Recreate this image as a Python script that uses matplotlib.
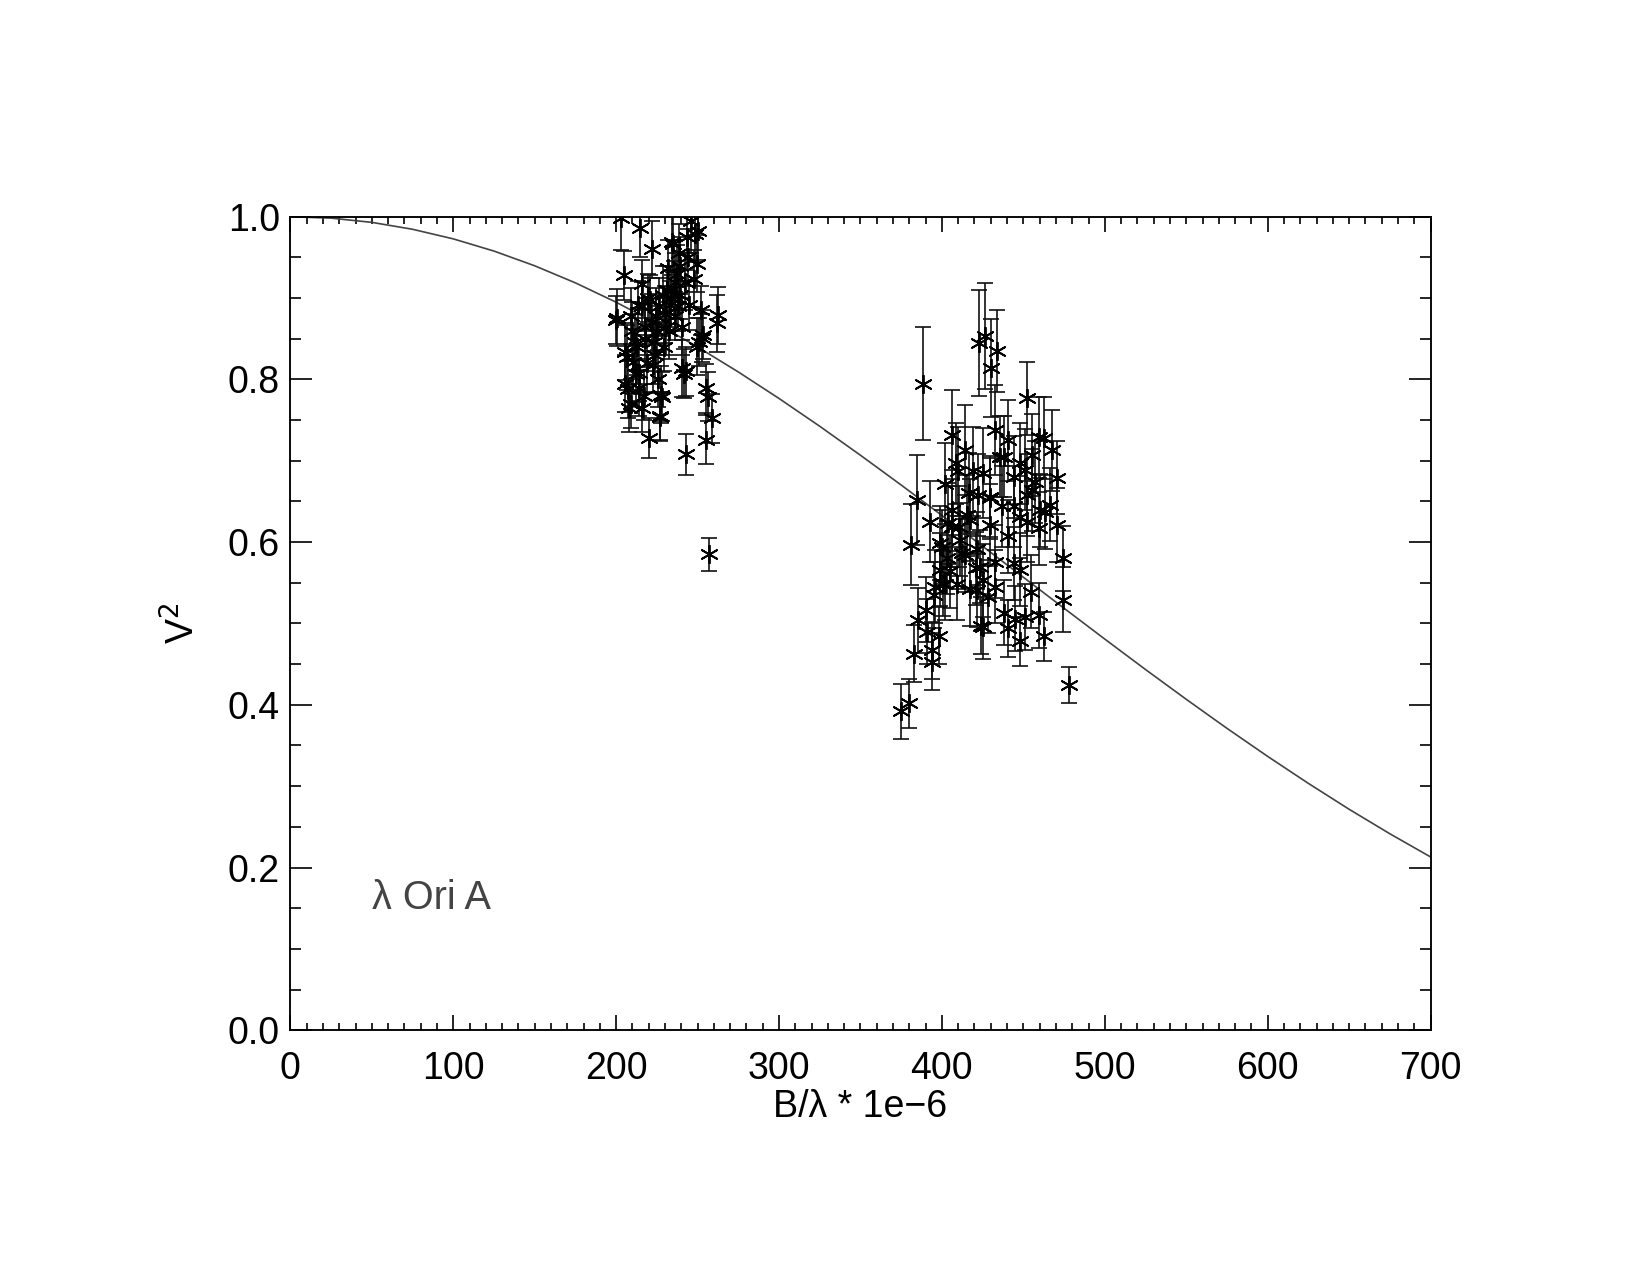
import numpy as np
import matplotlib
matplotlib.use("Agg")
import matplotlib.pyplot as plt
from matplotlib.ticker import MultipleLocator

# uniform-disk model curve, tabulated every 25 units of B/lambda
model_x = [0, 25, 50, 75, 100, 125, 150, 175, 200, 225, 250, 275, 300, 325, 350,
           375, 400, 425, 450, 475, 500, 525, 550, 575, 600, 625, 650, 675, 700]
model_v2 = [1.0, 0.9983, 0.9931, 0.9846, 0.9728, 0.9578, 0.9397, 0.9187, 0.8949,
            0.8686, 0.8399, 0.8092, 0.7766, 0.7424, 0.7068, 0.6702, 0.6328, 0.5949,
            0.5568, 0.5187, 0.4808, 0.4434, 0.4068, 0.3711, 0.3366, 0.3034, 0.2716,
            0.2415, 0.2130]

# short-baseline group
b1 = [200.0, 200.4, 203.0, 205.0, 205.5, 205.5, 206.8, 207.5, 208.0, 209.4, 210.6,
      211.3, 212.0, 213.3, 214.3, 214.6, 215.7, 215.9, 217.8, 219.1, 219.5, 220.4,
      221.0, 222.3, 222.9, 223.0, 224.3, 225.6, 226.9, 227.0, 227.5, 228.0, 228.8,
      229.4, 230.7, 232.0, 233.3, 234.0, 235.2, 235.3, 235.9, 237.2, 238.5, 239.1,
      240.3, 240.4, 241.7, 243.0, 243.0, 243.6, 245.0, 246.2, 247.5, 248.2, 249.5,
      249.5, 250.5, 250.8, 252.0, 252.6, 253.4, 255.0, 255.2, 256.6, 257.2, 258.7,
      261.8, 262.8, 210.0, 212.5, 216.0, 218.0, 222.0, 225.0, 226.0, 230.0, 231.0,
      233.5, 236.0, 238.0, 239.5, 242.0, 244.0, 209.0, 214.0, 217.0, 224.0, 232.5]
v1 = [0.873, 0.876, 0.999, 0.928, 0.834, 0.795, 0.827, 0.788, 0.765, 0.878, 0.822,
      0.846, 0.807, 0.891, 0.808, 0.986, 0.765, 0.917, 0.865, 0.820, 0.900, 0.728,
      0.898, 0.960, 0.818, 0.846, 0.878, 0.801, 0.755, 0.754, 0.781, 0.779, 0.904,
      0.840, 0.865, 0.937, 0.891, 0.969, 0.967, 0.911, 0.878, 0.930, 0.956, 0.904,
      0.814, 0.865, 0.807, 0.708, 0.810, 0.975, 0.891, 0.995, 0.924, 0.979, 0.942,
      0.840, 0.982, 0.846, 0.885, 0.851, 0.855, 0.789, 0.726, 0.779, 0.585, 0.752,
      0.869, 0.879, 0.860, 0.840, 0.890, 0.850, 0.870, 0.860, 0.890, 0.880, 0.910,
      0.900, 0.920, 0.890, 0.940, 0.920, 0.950, 0.770, 0.790, 0.780, 0.830, 0.860]
e1 = [0.030, 0.035, 0.040, 0.030, 0.035, 0.035, 0.040, 0.035, 0.030, 0.035, 0.040,
      0.035, 0.035, 0.030, 0.035, 0.035, 0.030, 0.030, 0.035, 0.035, 0.030, 0.025,
      0.030, 0.035, 0.035, 0.030, 0.035, 0.035, 0.030, 0.030, 0.035, 0.030, 0.035,
      0.030, 0.035, 0.035, 0.030, 0.040, 0.035, 0.035, 0.030, 0.035, 0.035, 0.030,
      0.035, 0.035, 0.030, 0.025, 0.030, 0.040, 0.030, 0.040, 0.035, 0.035, 0.035,
      0.035, 0.035, 0.030, 0.030, 0.030, 0.030, 0.030, 0.030, 0.030, 0.020, 0.030,
      0.035, 0.035, 0.035, 0.035, 0.030, 0.035, 0.035, 0.030, 0.035, 0.035, 0.030,
      0.035, 0.035, 0.030, 0.035, 0.035, 0.035, 0.030, 0.035, 0.030, 0.035, 0.035]

# long-baseline group
b2 = [374.8, 379.5, 380.9, 382.6, 384.6, 385.6, 388.5, 390.1, 390.8, 392.4, 393.9,
      393.9, 394.9, 395.9, 398.5, 399.0, 399.0, 400.0, 400.7, 402.0, 402.0, 403.3,
      404.0, 405.1, 406.1, 406.2, 406.2, 408.5, 409.1, 410.1, 410.2, 411.2, 412.3,
      414.3, 414.3, 415.6, 416.9, 417.4, 417.5, 419.3, 420.7, 421.4, 421.4, 422.0,
      423.0, 423.5, 424.0, 425.1, 425.5, 425.5, 426.6, 428.6, 429.3, 429.7, 429.7,
      430.0, 432.7, 432.7, 432.7, 433.7, 435.8, 436.8, 437.9, 437.9, 440.8, 440.8,
      440.8, 444.0, 444.0, 444.0, 445.0, 448.0, 448.0, 448.0, 448.0, 451.1, 451.1,
      452.2, 452.2, 452.2, 454.9, 455.3, 455.3, 457.3, 459.3, 459.3, 459.3, 460.4,
      462.4, 462.4, 463.4, 466.5, 467.5, 470.6, 470.6, 474.3, 474.3, 478.3]
v2 = [0.392, 0.402, 0.597, 0.463, 0.652, 0.504, 0.795, 0.517, 0.490, 0.625, 0.467,
      0.453, 0.535, 0.545, 0.485, 0.599, 0.566, 0.594, 0.549, 0.672, 0.549, 0.581,
      0.623, 0.564, 0.732, 0.639, 0.619, 0.697, 0.549, 0.687, 0.619, 0.603, 0.587,
      0.713, 0.584, 0.633, 0.660, 0.627, 0.542, 0.687, 0.568, 0.592, 0.541, 0.658,
      0.845, 0.570, 0.497, 0.496, 0.685, 0.553, 0.853, 0.533, 0.656, 0.654, 0.621,
      0.814, 0.738, 0.576, 0.545, 0.835, 0.705, 0.644, 0.705, 0.513, 0.725, 0.607,
      0.494, 0.680, 0.644, 0.574, 0.506, 0.697, 0.631, 0.566, 0.478, 0.689, 0.508,
      0.777, 0.658, 0.625, 0.539, 0.707, 0.664, 0.674, 0.729, 0.617, 0.510, 0.639,
      0.728, 0.484, 0.637, 0.646, 0.713, 0.679, 0.621, 0.580, 0.529, 0.424]
e2 = [0.034, 0.030, 0.050, 0.035, 0.055, 0.040, 0.070, 0.040, 0.040, 0.050, 0.035,
      0.035, 0.040, 0.045, 0.035, 0.045, 0.045, 0.045, 0.040, 0.050, 0.045, 0.045,
      0.050, 0.045, 0.055, 0.050, 0.050, 0.050, 0.045, 0.055, 0.050, 0.045, 0.045,
      0.055, 0.045, 0.050, 0.050, 0.050, 0.045, 0.055, 0.045, 0.045, 0.045, 0.050,
      0.065, 0.045, 0.035, 0.040, 0.055, 0.045, 0.065, 0.045, 0.050, 0.050, 0.050,
      0.060, 0.055, 0.045, 0.045, 0.050, 0.050, 0.050, 0.050, 0.040, 0.050, 0.045,
      0.035, 0.050, 0.050, 0.045, 0.040, 0.050, 0.050, 0.045, 0.030, 0.050, 0.040,
      0.045, 0.050, 0.050, 0.045, 0.050, 0.050, 0.050, 0.050, 0.045, 0.040, 0.045,
      0.050, 0.030, 0.045, 0.045, 0.050, 0.045, 0.045, 0.040, 0.040, 0.022]

plt.rcParams["font.family"] = ["Liberation Sans", "DejaVu Sans"]

fig = plt.figure(figsize=(11, 8.5), dpi=150)
ax = fig.add_axes([0.176, 0.192, 0.691, 0.638])

ax.plot(model_x, model_v2, color="#444444", lw=0.8)

for b, v, e in [(b1, v1, e1), (b2, v2, e2)]:
    ax.errorbar(b, v, yerr=e, fmt="none", ecolor="#111111", elinewidth=0.8,
                capsize=4, capthick=0.8)
    ax.plot(b, v, ls="none", marker=(6, 2, 0), ms=9, mec="black", mew=0.9)

ax.set_xlim(0, 700)
ax.set_ylim(0, 1.0)
ax.xaxis.set_major_locator(MultipleLocator(100))
ax.xaxis.set_minor_locator(MultipleLocator(10))
ax.yaxis.set_major_locator(MultipleLocator(0.2))
ax.yaxis.set_minor_locator(MultipleLocator(0.05))
ax.yaxis.set_major_formatter(matplotlib.ticker.FormatStrFormatter("%.1f"))

ax.tick_params(axis="both", which="both", direction="in", top=True, right=True,
               width=0.8, labelsize=18)
ax.tick_params(axis="x", which="major", length=7.2, pad=10)
ax.tick_params(axis="x", which="minor", length=3.4)
ax.tick_params(axis="y", which="major", length=10.5, pad=5)
ax.tick_params(axis="y", which="minor", length=5.3)
for s in ax.spines.values():
    s.set_linewidth(0.9)

ax.set_xlabel("B/λ * 1e\u22126", fontsize=18, labelpad=1)
ax.set_ylabel("V$^2$", fontsize=18, labelpad=12)
ax.text(50, 0.163, "λ Ori A", fontsize=19, color="#444444", va="center")

fig.savefig("out.png", dpi=150)
